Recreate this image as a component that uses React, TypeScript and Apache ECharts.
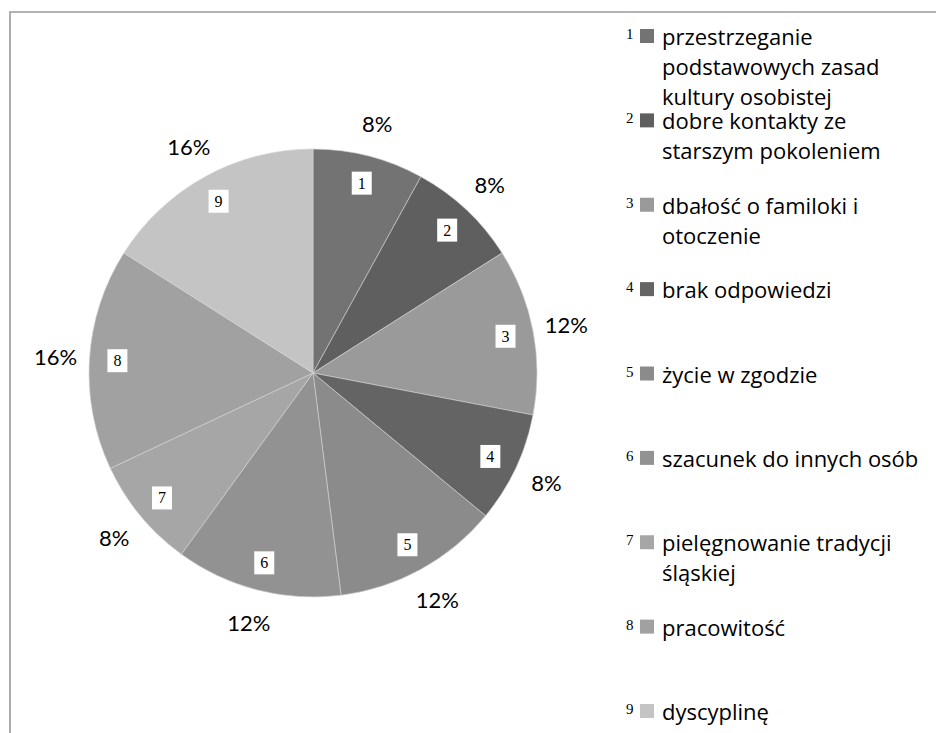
import React, { useEffect, useRef } from "react";
import * as echarts from "echarts";

const categories = [
  "przestrzeganie podstawowych zasad kultury osobistej",
  "dobre kontakty ze starszym pokoleniem",
  "dbałość o familoki i otoczenie",
  "brak odpowiedzi",
  "życie w zgodzie",
  "szacunek do innych osób",
  "pielęgnowanie tradycji śląskiej",
  "pracowitość",
  "dyscyplinę",
];
const legendLines = [
  ["przestrzeganie", "podstawowych zasad", "kultury osobistej"],
  ["dobre kontakty ze", "starszym pokoleniem"],
  ["dbałość o familoki i", "otoczenie"],
  ["brak odpowiedzi"],
  ["życie w zgodzie"],
  ["szacunek do innych osób"],
  ["pielęgnowanie tradycji", "śląskiej"],
  ["pracowitość"],
  ["dyscyplinę"],
];
const values = [8, 8, 12, 8, 12, 12, 8, 16, 16];
const colors = ["#737373", "#5f5f5f", "#9a9a9a", "#646464", "#8b8b8b", "#929292", "#a6a6a6", "#a1a1a1", "#c4c4c4"];

const CX = 313;
const CY = 373;
const R = 224;
const LH = 30;
const SLOT = 84.375;
const ICON = 14;
const BOX = 150;

export default function App() {
  const ref = useRef<HTMLDivElement>(null);
  useEffect(() => {
    if (!ref.current) return;
    const chart = echarts.init(ref.current, null, { renderer: "svg" });
    const pieData = categories.map((name, i) => ({
      name,
      value: values[i],
      itemStyle: { color: colors[i] },
    }));
    const ghostData = categories.map((name, i) => ({ name, value: values[i] }));
    const legendCommon = {
      orient: "vertical" as const,
      top: 36 - BOX / 2,
      height: 5000,
      padding: 0,
      itemGap: SLOT - BOX,
      selectedMode: false,
    };
    const padTop = (BOX - LH) / 2;
    chart.setOption({
      animation: false,
      backgroundColor: "#ffffff",
      graphic: [
        {
          type: "polyline",
          silent: true,
          shape: { points: [[10, 1000], [10, 12], [1000, 12]] },
          style: { stroke: "#9a9a9a", lineWidth: 1.6, fill: "none" },
        },
      ],
      legend: [
        {
          ...legendCommon,
          left: 640,
          itemWidth: ICON,
          itemHeight: ICON,
          icon: "rect",
          itemStyle: { borderWidth: 0 },
          formatter: (name: string) =>
            legendLines[categories.indexOf(name)].map((l) => `{t|${l}}`).join("\n"),
          textStyle: {
            fontFamily: "Open Sans",
            fontSize: 22,
            color: "#000",
            lineHeight: LH,
            rich: {
              t: { fontFamily: "Open Sans", fontSize: 22, color: "#000", lineHeight: LH },
            },
          },
          data: categories.map((name, i) => ({
            name,
            textStyle: {
              padding: [padTop, 0, BOX - padTop - legendLines[i].length * LH, 3],
            },
          })),
        },
        {
          ...legendCommon,
          left: 621,
          itemWidth: 0,
          itemHeight: ICON,
          icon: "rect",
          itemStyle: { color: "rgba(0,0,0,0)", borderWidth: 0 },
          formatter: (name: string) => `{n|${categories.indexOf(name) + 1}}`,
          textStyle: {
            fontFamily: "Liberation Serif",
            fontSize: 15,
            color: "#000",
            lineHeight: LH,
            padding: [padTop - 2, 0, BOX - padTop - LH + 2, 0],
            rich: {
              n: { fontFamily: "Liberation Serif", fontSize: 15, color: "#000", lineHeight: LH },
            },
          },
          data: categories,
        },
      ],
      series: [
        {
          type: "pie",
          center: [CX, CY],
          radius: R,
          startAngle: 90,
          clockwise: true,
          silent: true,
          label: { show: false },
          labelLine: { show: false },
          itemStyle: { borderColor: "#d4d4d4", borderWidth: 0.6 },
          emphasis: { disabled: true },
          data: pieData,
        },
        {
          type: "pie",
          center: [CX, CY],
          radius: [162, R],
          startAngle: 90,
          silent: true,
          itemStyle: { color: "rgba(0,0,0,0)", borderWidth: 0 },
          emphasis: { disabled: true },
          labelLine: { show: false },
          label: {
            show: true,
            position: "inside",
            formatter: (p: any) => String(p.dataIndex + 1),
            fontFamily: "Liberation Serif",
            fontSize: 16,
            lineHeight: 16,
            color: "#000",
            backgroundColor: "#ffffff",
            padding: [4, 6, 3, 6],
          },
          data: ghostData,
        },
        {
          type: "pie",
          center: [CX, CY],
          radius: [230, 280],
          startAngle: 90,
          silent: true,
          itemStyle: { color: "rgba(0,0,0,0)", borderWidth: 0 },
          emphasis: { disabled: true },
          labelLine: { show: false },
          label: {
            show: true,
            position: "inside",
            formatter: (p: any) => `${Math.round(p.percent)}%`,
            fontFamily: "Lato",
            fontSize: 22,
            color: "#000",
          },
          data: ghostData,
        },
      ],
    });
    return () => chart.dispose();
  }, []);
  return (
    <div
      ref={ref}
      style={{ position: "fixed", left: 0, top: 0, width: 936, height: 733 }}
    />
  );
}
